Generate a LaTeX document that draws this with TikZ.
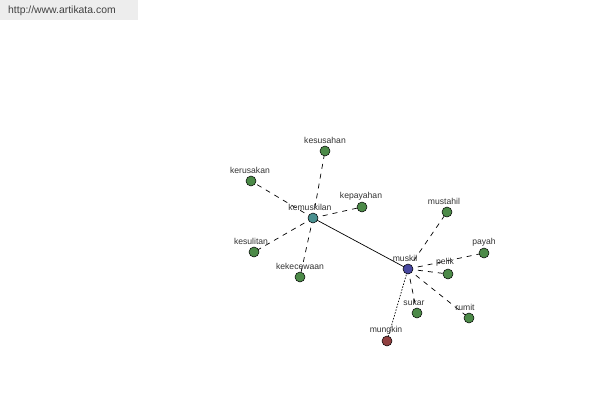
\documentclass[tikz,border=0pt]{standalone}
\usepackage{fontspec}
\setmainfont{Liberation Sans}
\begin{document}
\begin{tikzpicture}[x=1pt,y=-1pt,
  dot/.style={circle,draw=black,line width=0.5pt,minimum size=10pt,inner sep=0pt},
  lab/.style={font=\fontsize{8.6}{10}\selectfont,text=black!80,inner sep=0pt},
  dashedge/.style={draw=black,line width=0.7pt,dash pattern=on 5pt off 5pt},
  dotedge/.style={draw=black,line width=0.7pt,dash pattern=on 1.5pt off 1.5pt},
  solidedge/.style={draw=black,line width=0.7pt}]
\definecolor{gfill}{RGB}{76,138,72}
\definecolor{tfill}{RGB}{74,144,144}
\definecolor{bfill}{RGB}{72,72,160}
\definecolor{rfill}{RGB}{144,64,64}
\useasboundingbox (0,0) rectangle (600,400);
\fill[white] (0,0) rectangle (600,400);
\node[fill=black!7,minimum width=138pt,minimum height=20pt,inner sep=0pt,anchor=north west] (wm) at (0,0) {};
\node[font=\fontsize{10.4}{12}\selectfont,text=black!75,anchor=west,inner sep=0pt] (wmt) at (8,10.5) {http://www.artikata.com};
% coordinates
\coordinate (pKem) at (313,218);
\coordinate (pMus) at (408,269);
\coordinate (pKsh) at (325,151);
\coordinate (pKrs) at (251,181);
\coordinate (pKpy) at (362,207);
\coordinate (pKsl) at (254,252);
\coordinate (pKkc) at (300,277);
\coordinate (pMst) at (447,212);
\coordinate (pPay) at (484,253);
\coordinate (pPel) at (448,274);
\coordinate (pRum) at (469,318);
\coordinate (pSuk) at (417,313);
\coordinate (pMun) at (387,341);
% edges
\draw[solidedge] (pKem) -- (pMus);
\foreach \t in {pKsh,pKrs,pKpy,pKsl,pKkc} \draw[dashedge] (pKem) -- (\t);
\foreach \t in {pMst,pPay,pPel,pRum,pSuk} \draw[dashedge] (pMus) -- (\t);
\draw[dotedge] (pMus) -- (pMun);
% nodes
\node[dot,fill=tfill] (kemuskilan) at (pKem) {};
\node[dot,fill=bfill] (muskil) at (pMus) {};
\node[dot,fill=gfill] (kesusahan) at (pKsh) {};
\node[dot,fill=gfill] (kerusakan) at (pKrs) {};
\node[dot,fill=gfill] (kepayahan) at (pKpy) {};
\node[dot,fill=gfill] (kesulitan) at (pKsl) {};
\node[dot,fill=gfill] (kekecewaan) at (pKkc) {};
\node[dot,fill=gfill] (mustahil) at (pMst) {};
\node[dot,fill=gfill] (payah) at (pPay) {};
\node[dot,fill=gfill] (pelik) at (pPel) {};
\node[dot,fill=gfill] (rumit) at (pRum) {};
\node[dot,fill=gfill] (sukar) at (pSuk) {};
\node[dot,fill=rfill] (mungkin) at (pMun) {};
% labels
\node[lab] (lKem) at (310,207) {kemuskilan};
\node[lab] (lMus) at (405,258) {muskil};
\node[lab] (lKsh) at (325,140) {kesusahan};
\node[lab] (lKrs) at (250,170) {kerusakan};
\node[lab] (lKpy) at (361,196) {kepayahan};
\node[lab] (lKsl) at (251,241) {kesulitan};
\node[lab] (lKkc) at (300,266) {kekecewaan};
\node[lab] (lMst) at (444,201) {mustahil};
\node[lab] (lPay) at (484,242) {payah};
\node[lab] (lPel) at (445,262) {pelik};
\node[lab] (lRum) at (465,307) {rumit};
\node[lab] (lSuk) at (414,302) {sukar};
\node[lab] (lMun) at (386,330) {mungkin};
\end{tikzpicture}
\end{document}
